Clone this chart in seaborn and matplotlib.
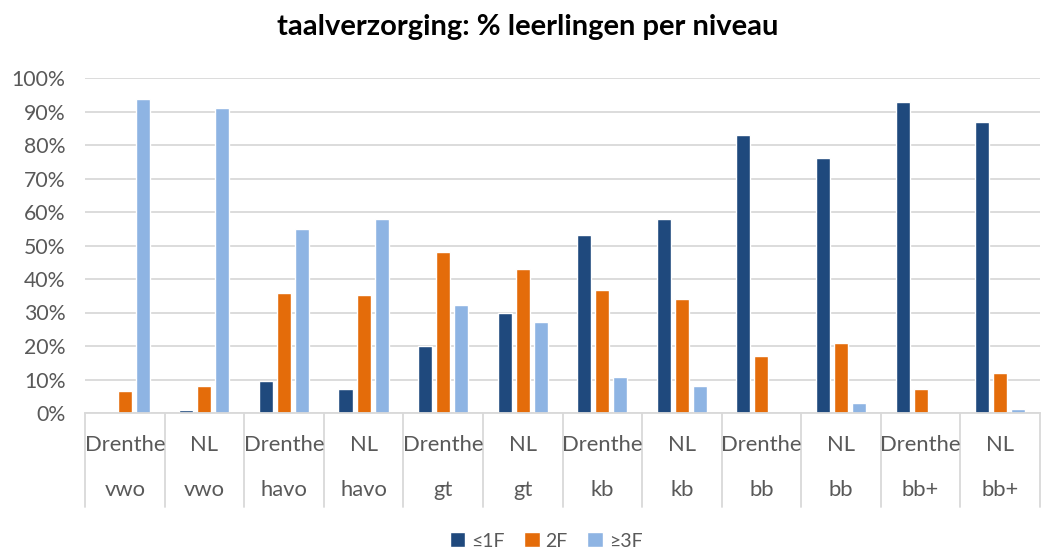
import matplotlib.pyplot as plt
import matplotlib.transforms as mtransforms
from matplotlib.patches import Patch
from matplotlib.ticker import PercentFormatter
import pandas as pd
import seaborn as sns

regions = ["Drenthe", "NL"] * 6
levels = ["vwo", "vwo", "havo", "havo", "gt", "gt", "kb", "kb", "bb", "bb", "bb+", "bb+"]
series = ["≤1F", "2F", "≥3F"]

le1f = [0, 1, 9.6, 7.2, 19.9, 30, 53, 58, 83, 76, 92.8, 87]
f2 = [6.5, 8, 35.7, 35.1, 48.1, 43, 36.6, 34.1, 17, 21, 7.2, 12]
ge3f = [93.6, 91, 54.8, 57.9, 32.1, 27.1, 10.6, 8, 0, 3.1, 0, 1.1]

colors = ["#1F497D", "#E46C0A", "#8EB4E3"]
grey = "#595959"

cats = [f"{r}|{l}|{i}" for i, (r, l) in enumerate(zip(regions, levels))]
rows = []
for name, vals in zip(series, [le1f, f2, ge3f]):
    for c, v in zip(cats, vals):
        rows.append({"cat": c, "serie": name, "pct": v / 100})
df = pd.DataFrame(rows)

sns.set_style("white")
plt.rcParams["font.family"] = ["Lato", "DejaVu Sans"]

fig = plt.figure(figsize=(10.56, 5.51), dpi=100)
ax = fig.add_axes([85 / 1056, 1 - 413 / 551, 955 / 1056, 335 / 551])

sns.barplot(data=df, x="cat", y="pct", hue="serie", order=cats, hue_order=series,
            palette=colors, width=0.68, gap=0.22, saturation=1, ax=ax, legend=False)

ax.set_ylim(0, 1)
ax.set_xlim(-0.5, len(cats) - 0.5)
ax.set_yticks([i / 10 for i in range(11)])
ax.yaxis.set_major_formatter(PercentFormatter(1.0, decimals=0))
ax.tick_params(axis="y", labelsize=15.3, labelcolor=grey, length=0, pad=14)
ax.grid(axis="y", color="#D9D9D9", linewidth=1.3)
ax.set_axisbelow(True)
for s in ["top", "right", "left"]:
    ax.spines[s].set_visible(False)
ax.spines["bottom"].set_color("#D9D9D9")
ax.spines["bottom"].set_linewidth(1.3)
ax.set_xticks([])
ax.set_xlabel("")
ax.set_ylabel("")

# two-row category axis
trans = mtransforms.blended_transform_factory(ax.transData, ax.transAxes)
for i, (r, l) in enumerate(zip(regions, levels)):
    ax.text(i, -0.095, r, transform=trans, ha="center", va="center", fontsize=15.8, color=grey)
    ax.text(i, -0.23, l, transform=trans, ha="center", va="center", fontsize=15.8, color=grey)
for i in range(len(cats) + 1):
    ax.plot([i - 0.5, i - 0.5], [0, -0.28], transform=trans, color="#D9D9D9",
            linewidth=1.3, clip_on=False)

fig.suptitle("taalverzorging: % leerlingen per niveau", x=0.5, y=1 - 27 / 551, va="center",
             fontsize=21, fontweight="bold", color="black")

handles = [Patch(facecolor=c, label=s) for c, s in zip(colors, series)]
fig.legend(handles=handles, loc="center", bbox_to_anchor=(546 / 1056, 1 - 541 / 551), ncol=3,
           frameon=False, fontsize=14, labelcolor=grey, handlelength=0.8, handleheight=0.8,
           handletextpad=0.3, columnspacing=1.0)

fig.savefig("out.png", dpi=100)
